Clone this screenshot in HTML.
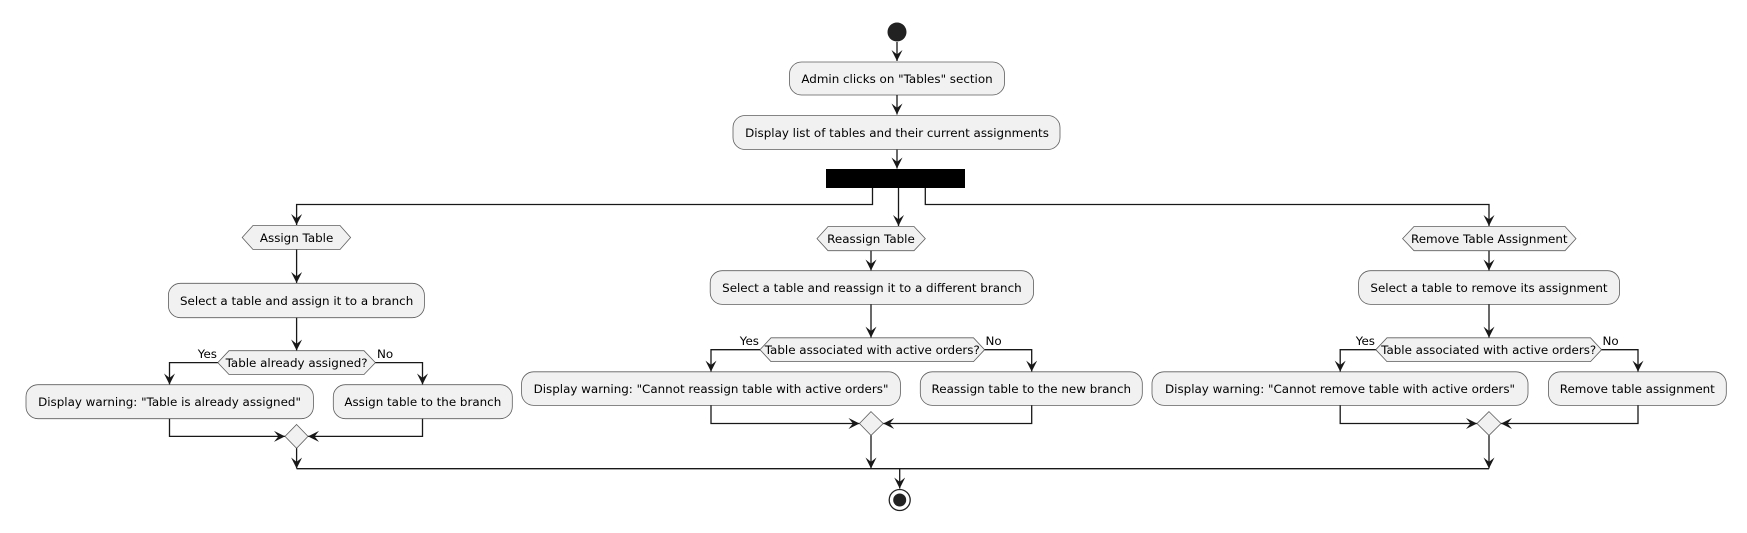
<!DOCTYPE html>
<html><head><meta charset="utf-8"><style>
html,body{margin:0;padding:0;background:#fff;}
svg{display:block;}
text{font-family:"DejaVu Sans","Liberation Sans",sans-serif;font-size:11.9px;fill:#000;}
.b{fill:#F1F1F1;stroke:#5E5E5E;stroke-width:0.8;}
.l{fill:none;stroke:#181818;stroke-width:1.3;}
</style></head><body>
<svg width="1747" height="533" viewBox="0 0 1747 533" xmlns="http://www.w3.org/2000/svg">
<defs>
<marker id="ar" markerWidth="11" markerHeight="11" refX="10" refY="5" orient="auto" markerUnits="userSpaceOnUse" viewBox="0 0 10 10">
<polygon points="0,0 10,5 0,10 4,5" fill="#181818"/>
</marker>
</defs>

<circle cx="897" cy="32" r="9.5" fill="#222"/>
<line class="l" x1="897" y1="42" x2="897" y2="61" marker-end="url(#ar)"/>
<rect class="b" x="789.5" y="62" width="215" height="33" rx="12"/>
<text x="897" y="82.8" text-anchor="middle">Admin clicks on "Tables" section</text>
<line class="l" x1="897" y1="95" x2="897" y2="114.5" marker-end="url(#ar)"/>
<rect class="b" x="733" y="115.5" width="327" height="34" rx="12"/>
<text x="897" y="136.8" text-anchor="middle">Display list of tables and their current assignments</text>
<line class="l" x1="897" y1="149.5" x2="897" y2="168.5" marker-end="url(#ar)"/>
<rect x="826" y="169" width="139" height="19" fill="#000"/>

<polyline class="l" points="872.5,188 872.5,204.5 296.6,204.5 296.6,225" marker-end="url(#ar)"/>
<line class="l" x1="898.5" y1="188" x2="898.5" y2="226" marker-end="url(#ar)"/>
<polyline class="l" points="925.3,188 925.3,204.5 1489,204.5 1489,226" marker-end="url(#ar)"/>

<polygon class="b" points="242.2,237.5 253,225.5 340,225.5 350.6,237.5 340,249.5 253,249.5"/>
<text x="296.6" y="241.8" text-anchor="middle">Assign Table</text>
<line class="l" x1="296.6" y1="249.5" x2="296.6" y2="283" marker-end="url(#ar)"/>
<rect class="b" x="168.4" y="283.3" width="256" height="34.4" rx="12"/>
<text x="296.6" y="304.8" text-anchor="middle">Select a table and assign it to a branch</text>
<line class="l" x1="296.6" y1="317.7" x2="296.6" y2="350.5" marker-end="url(#ar)"/>
<polygon class="b" points="217.8,362.6 229,350.7 364,350.7 375.4,362.6 364,374.5 229,374.5"/>
<text x="296.6" y="366.9" text-anchor="middle">Table already assigned?</text>
<text x="217" y="358" text-anchor="end">Yes</text>
<text x="377" y="358">No</text>
<polyline class="l" points="217.8,362.6 169.5,362.6 169.5,384.5" marker-end="url(#ar)"/>
<polyline class="l" points="375.4,362.6 422.5,362.6 422.5,384.5" marker-end="url(#ar)"/>
<rect class="b" x="26" y="384.7" width="287.4" height="34" rx="12"/>
<text x="169.5" y="406" text-anchor="middle">Display warning: "Table is already assigned"</text>
<rect class="b" x="333.3" y="384.7" width="179" height="34" rx="12"/>
<text x="422.8" y="406" text-anchor="middle">Assign table to the branch</text>
<polyline class="l" points="169.5,418.7 169.5,436.4 285,436.4" marker-end="url(#ar)"/>
<polyline class="l" points="422.5,418.7 422.5,436.4 308,436.4" marker-end="url(#ar)"/>
<polygon class="b" points="296.6,424.5 308,436.4 296.6,448.3 285,436.4"/>
<line class="l" x1="296.6" y1="448.3" x2="296.6" y2="468.5" marker-end="url(#ar)"/>

<polygon class="b" points="817,238.6 828,226.5 914,226.5 925.3,238.6 914,250.7 828,250.7"/>
<text x="871" y="242.9" text-anchor="middle">Reassign Table</text>
<line class="l" x1="871" y1="250.7" x2="871" y2="270.5" marker-end="url(#ar)"/>
<rect class="b" x="710.2" y="270.7" width="323.4" height="33.7" rx="12"/>
<text x="871.9" y="291.9" text-anchor="middle">Select a table and reassign it to a different branch</text>
<line class="l" x1="871" y1="304.4" x2="871" y2="337.6" marker-end="url(#ar)"/>
<polygon class="b" points="760,349.7 771,337.8 973.5,337.8 984.6,349.7 973.5,361.6 771,361.6"/>
<text x="872.3" y="354" text-anchor="middle">Table associated with active orders?</text>
<text x="759" y="345" text-anchor="end">Yes</text>
<text x="985.5" y="345">No</text>
<polyline class="l" points="760,349.7 711,349.7 711,371.6" marker-end="url(#ar)"/>
<polyline class="l" points="984.6,349.7 1031.7,349.7 1031.7,371.6" marker-end="url(#ar)"/>
<rect class="b" x="521.6" y="371.8" width="378.8" height="33.6" rx="12"/>
<text x="711" y="392.9" text-anchor="middle">Display warning: "Cannot reassign table with active orders"</text>
<rect class="b" x="920.3" y="371.8" width="222" height="33.6" rx="12"/>
<text x="1031.3" y="392.9" text-anchor="middle">Reassign table to the new branch</text>
<polyline class="l" points="711,405.4 711,423.5 859.5,423.5" marker-end="url(#ar)"/>
<polyline class="l" points="1031.7,405.4 1031.7,423.5 883.2,423.5" marker-end="url(#ar)"/>
<polygon class="b" points="871,411.6 883.2,423.5 871,435.4 859.5,423.5"/>
<line class="l" x1="871" y1="435.4" x2="871" y2="468.5" marker-end="url(#ar)"/>

<polygon class="b" points="1402.6,238.6 1414,226.5 1565,226.5 1576,238.6 1565,250.7 1414,250.7"/>
<text x="1489.3" y="242.9" text-anchor="middle">Remove Table Assignment</text>
<line class="l" x1="1489" y1="250.7" x2="1489" y2="270.5" marker-end="url(#ar)"/>
<rect class="b" x="1358.6" y="270.7" width="261" height="33.7" rx="12"/>
<text x="1489" y="291.9" text-anchor="middle">Select a table to remove its assignment</text>
<line class="l" x1="1489" y1="304.4" x2="1489" y2="337.6" marker-end="url(#ar)"/>
<polygon class="b" points="1375.8,349.7 1387,337.8 1590.5,337.8 1601.6,349.7 1590.5,361.6 1387,361.6"/>
<text x="1488.7" y="354" text-anchor="middle">Table associated with active orders?</text>
<text x="1375" y="345" text-anchor="end">Yes</text>
<text x="1602.5" y="345">No</text>
<polyline class="l" points="1375.8,349.7 1340.2,349.7 1340.2,371.6" marker-end="url(#ar)"/>
<polyline class="l" points="1601.6,349.7 1638,349.7 1638,371.6" marker-end="url(#ar)"/>
<rect class="b" x="1152" y="371.8" width="376" height="33.6" rx="12"/>
<text x="1340" y="392.9" text-anchor="middle">Display warning: "Cannot remove table with active orders"</text>
<rect class="b" x="1548.4" y="371.8" width="177.9" height="33.6" rx="12"/>
<text x="1637.3" y="392.9" text-anchor="middle">Remove table assignment</text>
<polyline class="l" points="1340.2,405.4 1340.2,423.5 1477,423.5" marker-end="url(#ar)"/>
<polyline class="l" points="1638,405.4 1638,423.5 1501,423.5" marker-end="url(#ar)"/>
<polygon class="b" points="1489,411.6 1501,423.5 1489,435.4 1477,423.5"/>
<line class="l" x1="1489" y1="435.4" x2="1489" y2="468.5" marker-end="url(#ar)"/>

<line class="l" x1="296.6" y1="468.7" x2="1489" y2="468.7"/>
<line class="l" x1="899.7" y1="468.7" x2="899.7" y2="488.5" marker-end="url(#ar)"/>
<circle cx="899.7" cy="500" r="10.5" fill="#fff" stroke="#222" stroke-width="1.3"/>
<circle cx="899.7" cy="500" r="6.5" fill="#222"/>
</svg>
</body></html>
